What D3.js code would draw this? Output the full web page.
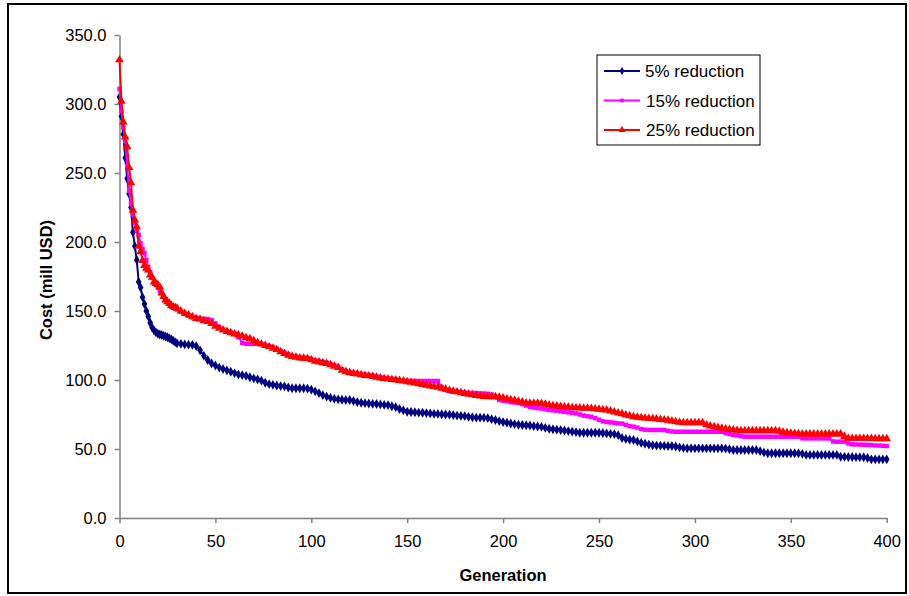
<!DOCTYPE html>
<html>
<head>
<meta charset="utf-8">
<script src="https://cdn.jsdelivr.net/npm/d3@7.9.0/dist/d3.min.js"></script>
<style>
  body { margin: 0; background: #fff; }
  svg { display: block; font-family: "Liberation Sans", Arial, sans-serif; }
  .axis path, .axis line { stroke: #808080; stroke-width: 1.5; }
  .axis text { font-size: 16.5px; fill: #000; }
</style>
</head>
<body>
<svg id="chart" width="909" height="596"></svg>
<script>
// generations: every one up to 30, then every second one
const generations = d3.range(0, 31).concat(d3.range(32, 401, 2));

const seriesNames = ["5% reduction", "15% reduction", "25% reduction"];
const yTicks = [0, 50, 100, 150, 200, 250, 300, 350];
const xTicks = [0, 50, 100, 150, 200, 250, 300, 350, 400];

// 5% reduction
const cost5 = [
  305, 291, 278, 261, 246, 235, 225, 207, 197, 187,
  171, 167, 160, 155, 150, 146, 141.5, 138, 136, 134.5,
  133.5, 133, 132.6, 132, 131.5, 131, 130.2, 129.5, 128.5, 127.5,
  126.6,
  126.2, 125.8, 125.6, 125.5, 124.5,
  121.5, 117.5, 114.5, 112, 110.5,
  109, 108, 107, 106, 105,
  104, 103.5, 103, 102, 101.2,
  100.5, 99.5, 98, 97, 96.5,
  96, 95.6, 95.4, 94.6, 94,
  94, 94, 94, 93.8, 93,
  91.8, 90.5, 89, 88, 87,
  86.5, 86, 85.7, 85.5, 85.5,
  84.8, 84, 83.5, 83.2, 83,
  82.7, 82.6, 82.3, 82, 81.8,
  81, 80.3, 79, 78, 77,
  76.8, 76.6, 76.4, 76.3, 76,
  75.8, 75.5, 75.4, 75.2, 75,
  74.9, 74.6, 74.2, 74, 73.8,
  73.3, 73, 72.7, 72.7, 72.7,
  72.4, 71.6, 71, 70.2, 69.5,
  69, 68.5, 68, 67.6, 67.4,
  67.2, 67, 66.6, 66.3, 66,
  65.3, 64.7, 64.3, 64, 63.7,
  63.4, 63, 62.6, 62.2, 61.8,
  61.8, 61.8, 61.8, 61.8, 61.8,
  61.6, 61.3, 61, 60.8, 60,
  58, 57.3, 56.8, 56.5, 55.5,
  54.5, 53.8, 53.2, 52.7, 52.5,
  52.4, 52.3, 52.2, 52.2, 51.8,
  51.2, 50.8, 50.5, 50.5, 50.5,
  50.5, 50.5, 50.5, 50.5, 50.5,
  50.5, 50.5, 50.3, 49.8, 49.3,
  49.3, 49.3, 49.3, 49.3, 49.3,
  49.3, 48.5, 47.5, 46.9, 46.9,
  46.9, 46.9, 46.9, 46.9, 46.9,
  46.9, 46.9, 46.5, 45.7, 45.7,
  45.7, 45.7, 45.7, 45.7, 45.7,
  45.7, 45.7, 44.4, 44.3, 44.2,
  44.2, 44.1, 44.1, 44, 43.5,
  42.5, 42.5, 42.5, 42.5, 42.5
];

// 15% reduction
const cost15 = [
  311, 295, 283, 273, 255, 237, 228, 220, 214, 208,
  205, 199, 195, 192, 187, 182, 178, 174, 171, 169,
  167, 164.5, 162.8, 160.5, 158.5, 157, 155.5, 154, 153, 152,
  151,
  149.5, 148, 146.5, 145.5, 145,
  144.5, 144.3, 144.2, 143.5, 141,
  138.5, 136.5, 135.3, 134.5, 133.5,
  131, 127, 126.2, 126.2, 126.2,
  126.2, 126, 125.3, 124.5, 123.5,
  122.5, 121, 119.8, 118.5, 117.5,
  117, 116.5, 116.2, 116, 115.2,
  114.2, 113.5, 113, 112.5, 111.5,
  110.5, 109.5, 107.8, 106.5, 105.8,
  105.2, 104.8, 104.3, 103.8, 103.5,
  103, 102.5, 102, 101.5, 101.2,
  100.8, 100.3, 99.6, 99.3, 99.3,
  99.3, 99.3, 99.3, 99.3, 99.3,
  99.3, 99.3, 99.3, 94.6, 93,
  92.2, 91.8, 91.5, 91.2, 90.8,
  90.6, 90.5, 90.5, 90.3, 90.2,
  90, 89.5, 88, 85.5, 85,
  84.5, 84, 83.7, 83.3, 82.5,
  81.5, 80.5, 80, 79.6, 79.3,
  78.8, 78.3, 78, 77.8, 77.3,
  77, 76.6, 76.3, 75.8, 75,
  74.2, 73.7, 73.4, 72.3, 71.2,
  70, 69.6, 69.3, 69, 68.6,
  68.4, 67.5, 66.5, 66.2, 65.5,
  64.5, 64, 63.8, 63.8, 63.8,
  63.8, 63.8, 63.2, 62.7, 62.5,
  62.5, 62.5, 62.5, 62.5, 62.5,
  62.5, 62.5, 62.5, 62.5, 62.5,
  62.5, 62.5, 61.4, 60.8, 60.2,
  59.8, 59.2, 58.9, 58.9, 58.9,
  58.9, 58.9, 58.9, 58.9, 58.9,
  58.9, 58.9, 58.9, 58.9, 58.9,
  58.9, 58.9, 57.8, 57.7, 57.7,
  57.7, 57.7, 57.7, 57.7, 57.7,
  55.5, 55.3, 55.3, 55.3, 54,
  53.4, 53.3, 53.2, 53.1, 53,
  52.8, 52.6, 52.5, 52.3, 52.2
];

// 25% reduction
const cost25 = [
  332, 302, 287, 276, 269, 254, 243, 223, 216, 211,
  197, 193, 186.5, 183, 181, 179.7, 176, 174.5, 171, 170,
  169, 167.5, 163, 160.5, 158, 156.7, 155.5, 154, 153, 152.5,
  152,
  150, 148.3, 147.3, 145.8, 144.5,
  144, 143, 142.3, 141, 139,
  137.4, 136.2, 135.2, 134.3, 133.3,
  132.6, 131.8, 130.7, 130, 128.5,
  127, 126, 125, 124, 123,
  122, 120.5, 119.2, 118, 117,
  116.5, 116, 115.7, 115.5, 114.6,
  113.5, 113, 112.5, 112, 111,
  110, 109, 107, 106, 105.3,
  104.7, 104.3, 103.8, 103.3, 103,
  102.5, 102, 101.5, 101, 100.8,
  100.4, 100, 99.6, 99.3, 98.8,
  98.3, 97.8, 97.3, 96.8, 96.2,
  95.7, 95.2, 94.7, 94, 93.3,
  92.5, 91.8, 91.4, 90.8, 90.2,
  89.7, 89.3, 88.8, 88.4, 88,
  87.9, 87.9, 87.9, 87.5, 87,
  86.3, 85.8, 85.3, 84.6, 84,
  83.4, 83.1, 83.1, 83.1, 83,
  82.4, 81.9, 81.4, 81.2, 80.8,
  80.5, 80.2, 80, 79.8, 79.7,
  79.6, 79.5, 79.4, 79.1, 78.8,
  78.5, 78.3, 77.6, 76.8, 76.1,
  75.5, 74.7, 74, 73.4, 73,
  72.7, 72.4, 72.2, 72, 71.7,
  71.4, 71.1, 70.8, 70.3, 69.8,
  69.3, 69, 69, 69, 69,
  69, 69, 67.5, 66.7, 66.2,
  65.6, 65.1, 64.6, 64.2, 63.8,
  63.5, 63.3, 63.3, 63.3, 63.3,
  63.3, 63.3, 63.3, 63.3, 63.3,
  63.3, 62.8, 62.2, 61.8, 61.5,
  61.2, 61, 60.9, 60.9, 60.9,
  60.9, 60.9, 60.9, 60.9, 60.9,
  60.9, 60.9, 60.9, 59, 57.7,
  57.7, 57.7, 57.7, 57.7, 57.6,
  57.6, 57.5, 57.5, 57.5, 57.5
];

const colors = ["#000080", "#ff00ff", "#ff0000"];
const symbols = [d3.symbolDiamond, d3.symbolSquare, d3.symbolTriangle];
const symbolSizes = [28, 20, 32];

const svg = d3.select("#chart");

// outer frame
svg.append("rect")
  .attr("x", 8).attr("y", 4)
  .attr("width", 898).attr("height", 589)
  .attr("fill", "#fff")
  .attr("stroke", "#000")
  .attr("stroke-width", 2);

const x = d3.scaleLinear().domain([0, 400]).range([119.5, 886.7]);
const y = d3.scaleLinear().domain([0, 350]).range([518, 35]);

svg.append("g")
  .attr("class", "axis")
  .attr("transform", "translate(119.5,0)")
  .call(d3.axisLeft(y).tickValues(yTicks).tickFormat(d3.format(".1f")).tickSize(5).tickPadding(8).tickSizeOuter(0));

svg.append("g")
  .attr("class", "axis")
  .attr("transform", "translate(0,518)")
  .call(d3.axisBottom(x).tickValues(xTicks).tickSize(5).tickPadding(12).tickSizeOuter(0));

svg.append("text")
  .attr("transform", "translate(52,280) rotate(-90)")
  .attr("text-anchor", "middle")
  .attr("font-size", 16.5)
  .attr("font-weight", "bold")
  .text("Cost (mill USD)");

svg.append("text")
  .attr("x", 503).attr("y", 581)
  .attr("text-anchor", "middle")
  .attr("font-size", 16.5)
  .attr("font-weight", "bold")
  .text("Generation");

const allSeries = [cost5, cost15, cost25];

const line = d3.line()
  .x((d, i) => x(generations[i]))
  .y(d => y(d));

allSeries.forEach((values, s) => {
  const g = svg.append("g");
  g.append("path")
    .attr("d", line(values))
    .attr("fill", "none")
    .attr("stroke", colors[s])
    .attr("stroke-width", 2);
  g.selectAll("path.pt")
    .data(values)
    .join("path")
    .attr("class", "pt")
    .attr("transform", (d, i) => `translate(${x(generations[i])},${y(d)})`)
    .attr("d", d3.symbol(symbols[s], symbolSizes[s]))
    .attr("fill", colors[s]);
});

// legend
const legend = svg.append("g");
legend.append("rect")
  .attr("x", 597).attr("y", 55)
  .attr("width", 163).attr("height", 90)
  .attr("fill", "#fff")
  .attr("stroke", "#000")
  .attr("stroke-width", 1);

seriesNames.forEach((name, s) => {
  const ly = 71 + s * 29.5;
  legend.append("line")
    .attr("x1", 604).attr("x2", 640)
    .attr("y1", ly).attr("y2", ly)
    .attr("stroke", colors[s])
    .attr("stroke-width", 1.8);
  legend.append("path")
    .attr("transform", `translate(622,${ly})`)
    .attr("d", d3.symbol(symbols[s], symbolSizes[s] * 0.7))
    .attr("fill", colors[s]);
  legend.append("text")
    .attr("x", s === 0 ? 645 : 646)
    .attr("y", ly + 6)
    .attr("font-size", 17)
    .text(name);
});
</script>
</body>
</html>
